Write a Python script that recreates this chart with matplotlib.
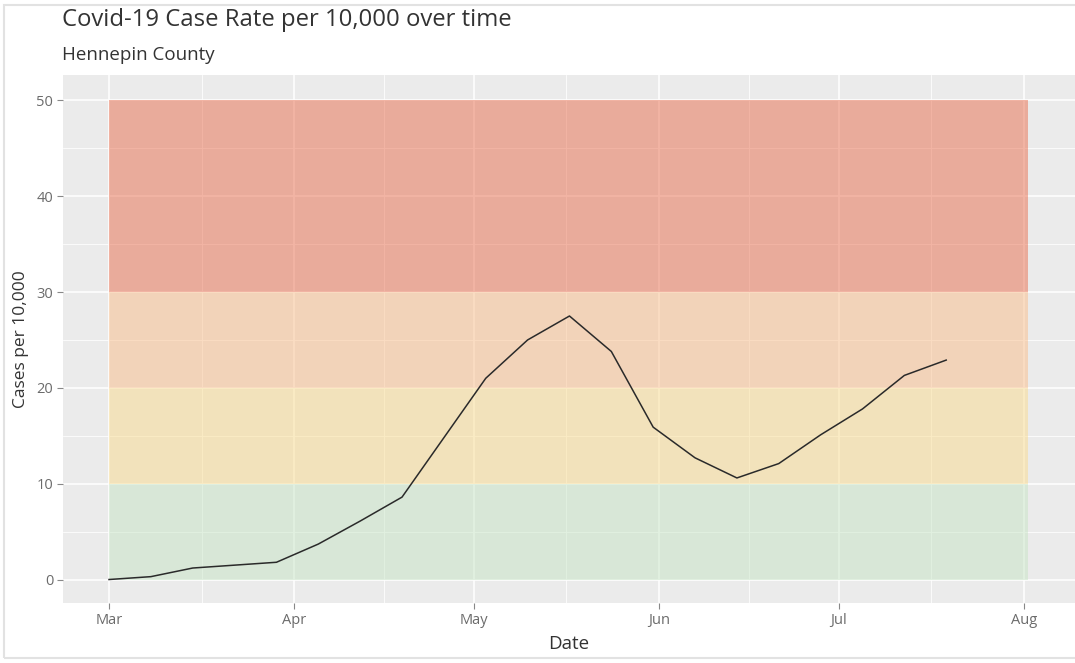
import numpy as np
import pandas as pd
import matplotlib.pyplot as plt
import matplotlib.dates as mdates
from matplotlib.patches import Rectangle

plt.rcParams['font.family'] = ['Open Sans', 'DejaVu Sans']

# weekly case rate
dates = pd.to_datetime(['2020-03-01', '2020-03-08', '2020-03-15', '2020-03-22', '2020-03-29',
                        '2020-04-05', '2020-04-12', '2020-04-19', '2020-04-26', '2020-05-03',
                        '2020-05-10', '2020-05-17', '2020-05-24', '2020-05-31', '2020-06-07',
                        '2020-06-14', '2020-06-21', '2020-06-28', '2020-07-05', '2020-07-12',
                        '2020-07-19'])
cases = [0.0, 0.3, 1.2, 1.5, 1.8, 3.7, 6.1, 8.6, 14.8, 21.0,
         25.0, 27.5, 23.8, 15.9, 12.7, 10.6, 12.1, 15.1, 17.8, 21.3, 22.9]

# risk bands
band_low = [0, 10, 20, 30]
band_high = [10, 20, 30, 50]
band_colors = ['#c7e5c5', '#f9db8d', '#f9bd89', '#e96d4d']
band_start = pd.Timestamp('2020-03-01')
band_end = pd.Timestamp('2020-08-01 18:00')

month_ticks = pd.to_datetime(['2020-03-01', '2020-04-01', '2020-05-01',
                              '2020-06-01', '2020-07-01', '2020-08-01'])
month_labels = ['Mar', 'Apr', 'May', 'Jun', 'Jul', 'Aug']

fig = plt.figure(figsize=(10.75, 6.63), dpi=100)
# faint screenshot frame (left, top, bottom)
fig.patches.append(Rectangle((0.004, 0.008), 1.2, 0.985, transform=fig.transFigure,
                             fill=False, edgecolor='#e2e2e2', linewidth=1.5, zorder=-1))

W, H = 1075, 663
left, right, top, bottom = 63, 1075, 75, 603
ax = fig.add_axes([left / W, 1 - bottom / H, (right - left) / W, (bottom - top) / H])
ax.set_facecolor('#ebebeb')

for lo, hi, c in zip(band_low, band_high, band_colors):
    ax.fill_between([band_start, band_end], lo, hi, color=c, alpha=0.5, linewidth=0, zorder=2)

ax.plot(dates, cases, color='#2a2a2a', linewidth=1.1, zorder=3)

# x scale: 5.98 px per day, Mar 1 at pixel 109
px_day = 5.98
x0 = mdates.date2num(pd.Timestamp('2020-03-01'))
ax.set_xlim(x0 - (109 - left) / px_day, x0 + (right - 109) / px_day)
ax.set_ylim(-2.45, 52.65)

ax.set_xticks(month_ticks)
ax.set_xticklabels(month_labels)
minor_x = [(mdates.date2num(a) + mdates.date2num(b)) / 2 for a, b in zip(month_ticks[:-1], month_ticks[1:])]
ax.set_xticks(minor_x, minor=True)
ax.set_yticks([0, 10, 20, 30, 40, 50])
ax.set_yticks([5, 15, 25, 35, 45], minor=True)

ax.grid(which='major', color='white', linewidth=1.1, zorder=1)
ax.grid(which='minor', color='white', linewidth=0.55, zorder=1)
ax.set_axisbelow(True)

for s in ax.spines.values():
    s.set_visible(False)
ax.tick_params(which='major', length=4, width=0.8, color='#888888', labelcolor='#6b6b6b',
               labelsize=10.5, pad=3)
ax.tick_params(which='minor', length=0)

ax.set_xlabel('Date', fontsize=13.5, color='#333333', labelpad=5)
ax.set_ylabel('Cases per 10,000', fontsize=12.5, color='#333333', labelpad=5)

fig.text(62 / W, 1 - 20 / H, 'Covid-19 Case Rate per 10,000 over time', fontsize=17.2,
         color='#333333', va='center', ha='left')
fig.text(62 / W, 1 - 55 / H, 'Hennepin County', fontsize=13.5,
         color='#333333', va='center', ha='left')

fig.savefig('out.png', dpi=100, facecolor='white')
